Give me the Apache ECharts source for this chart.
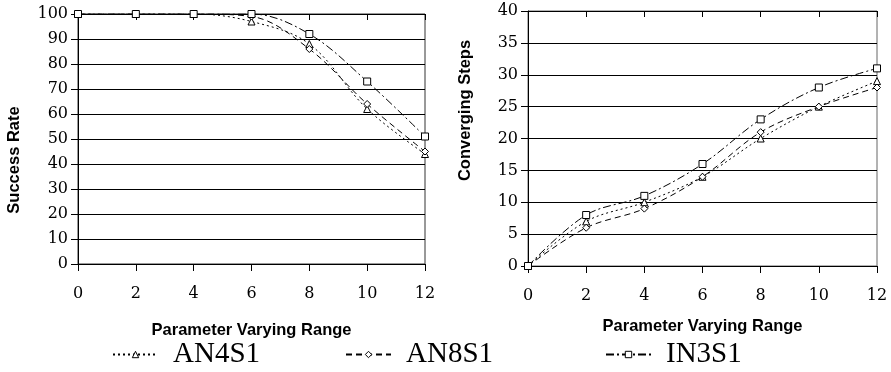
<!DOCTYPE html>
<html>
<head>
<meta charset="utf-8">
<script src="https://cdn.jsdelivr.net/npm/echarts@6/dist/echarts.min.js"></script>
<style>
  html, body { margin: 0; padding: 0; background: #fff; }
  #chart { width: 891px; height: 372px; }
</style>
</head>
<body>
<div id="chart"></div>
<script>
// x positions: parameter varying range
const ranges = [0, 2, 4, 6, 8, 10, 12];
const seriesNames = ['AN4S1', 'AN8S1', 'IN3S1'];

// success rate (left panel)
const successAN4S1 = [100, 100, 100, 97, 88, 62, 44];
const successAN8S1 = [100, 100, 100, 99, 86, 64, 45];
const successIN3S1 = [100, 100, 100, 100, 92, 73, 51];

// converging steps (right panel)
const stepsAN4S1 = [0, 7, 10, 14, 20, 25, 29];
const stepsAN8S1 = [0, 6, 9, 14, 21, 25, 28];
const stepsIN3S1 = [0, 8, 11, 16, 23, 28, 31];

const chart = echarts.init(document.getElementById('chart'));

const tickFont = { fontFamily: "'DejaVu Serif', serif", fontSize: 16, color: '#000' };
const nameFont = { fontFamily: "'Liberation Sans Narrow', 'Arial Narrow', 'Liberation Sans'", fontSize: 16.5, fontWeight: 'bold', color: '#000' };

// line style per series: dotted, dashed, dash-dot
const styles = {
  AN4S1: { type: [2, 3], symbol: 'triangle' },
  AN8S1: { type: [6, 4], symbol: 'diamond' },
  IN3S1: { type: [8, 3, 2, 3], symbol: 'rect' }
};

function makeSeries(name, data, idx) {
  return {
    name,
    type: 'line',
    xAxisIndex: idx * 2,
    yAxisIndex: idx,
    data: ranges.map((x, i) => [x, data[i]]),
    smooth: 0.35,
    symbol: styles[name].symbol,
    symbolSize: 7,
    showAllSymbol: true,
    lineStyle: { color: '#000', width: 1, type: styles[name].type },
    itemStyle: { color: '#fff', borderColor: '#000', borderWidth: 1 },
    emphasis: { disabled: true },
    z: 5
  };
}

function xAxes(gridIndex) {
  const base = {
    gridIndex,
    type: 'value',
    min: 0,
    max: 12,
    interval: 2,
    splitLine: { show: false },
    axisLine: { onZero: false, lineStyle: { color: '#000', width: 1 } }
  };
  return [
    Object.assign({}, base, {
      name: 'Parameter Varying Range',
      nameLocation: 'middle',
      nameGap: gridIndex === 0 ? 58 : 52,
      nameTextStyle: nameFont,
      axisTick: { show: true, length: 7, lineStyle: { color: '#000' } },
      axisLabel: Object.assign({ margin: 22 }, tickFont)
    }),
    // inner half of the crossing tick marks
    Object.assign({}, base, {
      axisTick: { show: true, inside: true, length: 6, lineStyle: { color: '#000' } },
      axisLabel: { show: false }
    })
  ];
}

function yAxis(gridIndex, name, max, interval, pad) {
  return {
    gridIndex,
    type: 'value',
    min: 0,
    max,
    interval,
    name,
    nameLocation: 'middle',
    nameGap: gridIndex === 0 ? 55 : 54,
    nameTextStyle: Object.assign({ padding: pad }, nameFont),
    axisLine: { show: true, lineStyle: { color: '#000', width: 1 } },
    axisTick: { show: true, length: 7, lineStyle: { color: '#000' } },
    axisLabel: Object.assign({ margin: 10 }, tickFont),
    splitLine: { show: true, lineStyle: { color: '#000', width: 1 } }
  };
}

function legendItem(name, left) {
  return {
    data: [name],
    left,
    top: 340,
    padding: 0,
    orient: 'horizontal',
    itemWidth: 45,
    itemHeight: 8,
    selectedMode: false,
    itemStyle: { color: '#fff', borderColor: '#000', borderWidth: 1 },
    textStyle: { fontFamily: "'Liberation Serif', serif", fontSize: 29, color: '#000', padding: [0, 0, 0, 10] }
  };
}

const option = {
  animation: false,
  backgroundColor: '#fff',
  grid: [
    { left: 78, top: 14, width: 347, height: 250, show: true, borderColor: '#333', borderWidth: 1 },
    { left: 528, top: 11, width: 349, height: 255, show: true, borderColor: '#666', borderWidth: 1 }
  ],
  xAxis: [...xAxes(0), ...xAxes(1)],
  yAxis: [
    yAxis(0, 'Success Rate', 100, 10, [0, 42, 0, 0]),
    yAxis(1, 'Converging Steps', 40, 5, [0, 0, 0, 56])
  ],
  legend: [
    legendItem('AN4S1', 112),
    legendItem('AN8S1', 345),
    legendItem('IN3S1', 605)
  ],
  series: [
    makeSeries('AN4S1', successAN4S1, 0),
    makeSeries('AN8S1', successAN8S1, 0),
    makeSeries('IN3S1', successIN3S1, 0),
    makeSeries('AN4S1', stepsAN4S1, 1),
    makeSeries('AN8S1', stepsAN8S1, 1),
    makeSeries('IN3S1', stepsIN3S1, 1)
  ]
};

chart.setOption(option);
</script>
</body>
</html>
